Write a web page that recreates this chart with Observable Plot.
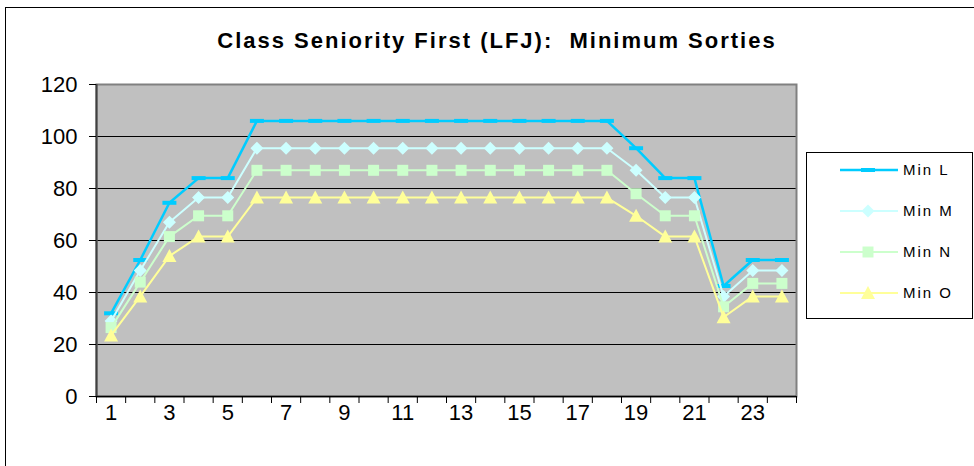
<!DOCTYPE html>
<html>
<head>
<meta charset="utf-8">
<script src="https://cdn.jsdelivr.net/npm/d3@7"></script>
<script src="https://cdn.jsdelivr.net/npm/@observablehq/plot@0.6"></script>
<style>
  html, body { margin: 0; padding: 0; background: #fff; }
  #chart { width: 974px; height: 466px; overflow: hidden; }
</style>
</head>
<body>
<div id="chart"></div>
<script>
// ---- data ----
const title = "Class Seniority First (LFJ):  Minimum Sorties";
const categories = [1, 2, 3, 4, 5, 6, 7, 8, 9, 10, 11, 12, 13, 14, 15, 16, 17, 18, 19, 20, 21, 22, 23, 24];
const xTickLabels = [1, 3, 5, 7, 9, 11, 13, 15, 17, 19, 21, 23];
const yTicks = [0, 20, 40, 60, 80, 100, 120];
const seriesNames = ["Min L", "Min M", "Min N", "Min O"];
const minL = [32, 52.5, 74.5, 84, 84, 106, 106, 106, 106, 106, 106, 106, 106, 106, 106, 106, 106, 106, 95.5, 84, 84, 42.5, 52.5, 52.5];
const minM = [29, 48.5, 67, 76.5, 76.5, 95.5, 95.5, 95.5, 95.5, 95.5, 95.5, 95.5, 95.5, 95.5, 95.5, 95.5, 95.5, 95.5, 87, 76.5, 76.5, 38.5, 48.5, 48.5];
const minN = [26.5, 44, 61.5, 69.5, 69.5, 87, 87, 87, 87, 87, 87, 87, 87, 87, 87, 87, 87, 87, 78, 69.5, 69.5, 34.5, 43.5, 43.5];
const minO = [23.5, 38.5, 54, 61.5, 61.5, 76.5, 76.5, 76.5, 76.5, 76.5, 76.5, 76.5, 76.5, 76.5, 76.5, 76.5, 76.5, 76.5, 69.5, 61.5, 61.5, 30.5, 38.5, 38.5];

// ---- styles ----
const colors = ["#00CCFF", "#CCFFFF", "#CCFFCC", "#FFFF99"];
const FONT = "'Liberation Sans', Arial, sans-serif";

const dashSym = {draw(ctx) { ctx.rect(-7, -2, 14, 4); }};
const diamondSym = {draw(ctx) { ctx.moveTo(0, -6.5); ctx.lineTo(6.5, 0); ctx.lineTo(0, 6.5); ctx.lineTo(-6.5, 0); ctx.closePath(); }};
const squareSym = {draw(ctx) { ctx.rect(-5.5, -5.5, 11, 11); }};
const triSym = {draw(ctx) { ctx.moveTo(0, -7); ctx.lineTo(7, 6); ctx.lineTo(-7, 6); ctx.closePath(); }};
const symbols = [dashSym, diamondSym, squareSym, triSym];

const seriesValues = [minL, minM, minN, minO];
const rows = [];
seriesValues.forEach((vals, s) => vals.forEach((v, i) => rows.push({series: seriesNames[s], s, x: categories[i], y: v})));

// boundaries between categories for tick marks
const boundaries = [0.5, ...categories.map(c => c + 0.5)];

const marks = [
  Plot.frame({fill: "#C0C0C0"}),
  Plot.ruleY(yTicks.filter(t => t > 0 && t < 120), {stroke: "#000", strokeWidth: 1}),
  Plot.frame({stroke: "#808080", strokeWidth: 2}),
  Plot.ruleY([0], {stroke: "#000", strokeWidth: 1.5}),
  Plot.ruleX([0.5], {stroke: "#404040", strokeWidth: 2}),
  Plot.axisY({ticks: yTicks, label: null, tickSize: 7, tickPadding: 12, fontSize: 22, stroke: "#000"}),
  Plot.axisX({ticks: boundaries, label: null, tickSize: 7, tickFormat: () => "", stroke: "#000"}),
  Plot.axisX({ticks: xTickLabels, label: null, tickSize: 0, tickPadding: 8, fontSize: 22})
];
seriesNames.forEach((name, s) => {
  const data = rows.filter(d => d.s === s);
  marks.push(Plot.line(data, {x: "x", y: "y", stroke: colors[s], strokeWidth: s === 0 ? 2.5 : 2}));
  marks.push(Plot.dot(data, {x: "x", y: "y", fill: colors[s], stroke: "none", symbol: () => symbols[s], r: 5}));
});

const chart = Plot.plot({
  width: 974,
  height: 466,
  marginLeft: 96,
  marginRight: 178,
  marginTop: 84,
  marginBottom: 70,
  style: {fontFamily: FONT, fontSize: "22px", background: "#fff", color: "#000"},
  x: {type: "linear", domain: [0.5, 24.5], label: null},
  y: {domain: [0, 120], label: null},
  symbol: {type: "identity"},
  marks
});

document.getElementById("chart").appendChild(chart);

// ---- chrome: outer border, title, legend ----
const svg = d3.select(chart);
svg.insert("rect", ":first-child")
  .attr("x", 5.5).attr("y", 7.5).attr("width", 1000).attr("height", 1000)
  .attr("fill", "#fff").attr("stroke", "#000").attr("stroke-width", 1);

svg.append("text")
  .attr("x", 497).attr("y", 48)
  .attr("text-anchor", "middle")
  .attr("font-family", FONT).attr("font-weight", "bold").attr("font-size", 22)
  .attr("letter-spacing", "2px")
  .attr("fill", "#000")
  .text(title);

const lg = svg.append("g");
lg.append("rect").attr("x", 806.5).attr("y", 152.5).attr("width", 166).attr("height", 166)
  .attr("fill", "#fff").attr("stroke", "#000").attr("stroke-width", 1);
const entryY = [170, 211, 252, 293];
seriesNames.forEach((name, s) => {
  const y = entryY[s];
  lg.append("line").attr("x1", 840).attr("x2", 898).attr("y1", y).attr("y2", y)
    .attr("stroke", colors[s]).attr("stroke-width", s === 0 ? 2.5 : 2);
  lg.append("path").attr("transform", `translate(868,${y})`)
    .attr("d", d3.symbol(symbols[s])()).attr("fill", colors[s]);
  lg.append("text").attr("x", 903).attr("y", y).attr("dy", "0.35em")
    .attr("text-anchor", "start")
    .attr("font-family", FONT).attr("font-size", 15).attr("fill", "#000")
    .attr("letter-spacing", "2px")
    .text(name);
});
</script>
</body>
</html>
